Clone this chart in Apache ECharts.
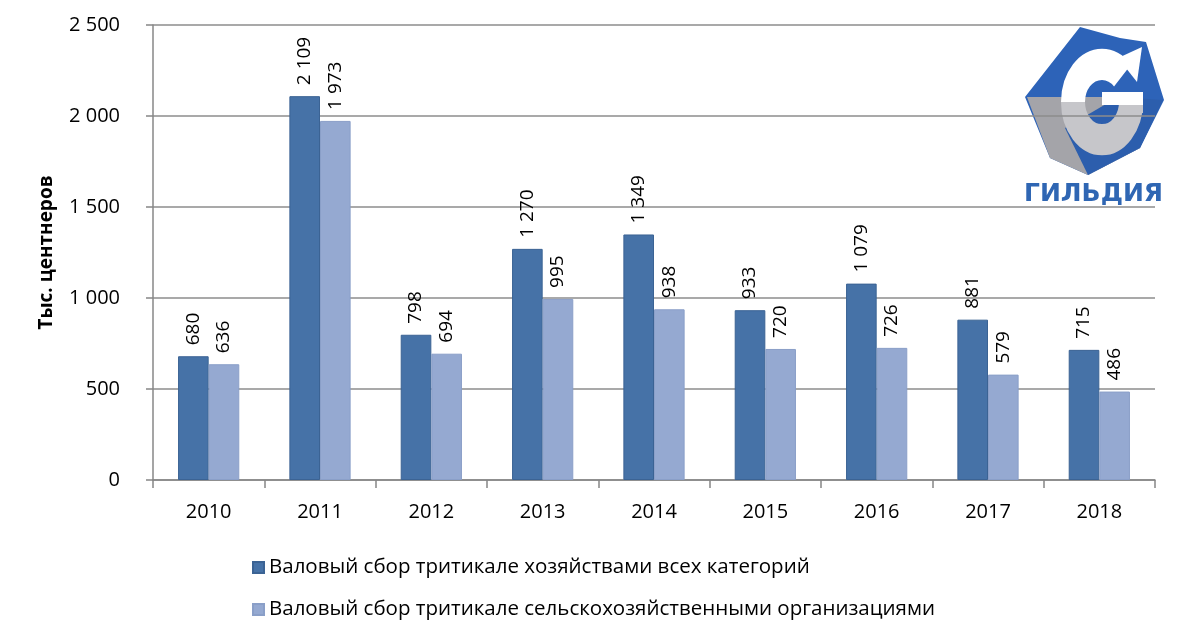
<!DOCTYPE html>
<html><head><meta charset="utf-8">
<script src="https://cdn.jsdelivr.net/npm/echarts@6/dist/echarts.min.js"></script>
<style>html,body{margin:0;padding:0;background:#fff}#c{width:1180px;height:638px}</style>
</head><body><div id="c"></div>
<script>
const categories = ['2010','2011','2012','2013','2014','2015','2016','2017','2018'];
const seriesAllName = 'Валовый сбор тритикале хозяйствами всех категорий';
const seriesOrgName = 'Валовый сбор тритикале сельскохозяйственными организациями';
const allFarms = [680, 2109, 798, 1270, 1349, 933, 1079, 881, 715];
const orgFarms = [636, 1973, 694, 995, 938, 720, 726, 579, 486];
const yTicks = [0, 500, 1000, 1500, 2000, 2500];
const yName = 'Тыс. центнеров';
const logoText = 'ГИЛЬДИЯ';

function fmt(v){ return String(v).replace(/\B(?=(\d{3})+(?!\d))/g, ' '); }
const FONT = 'Open Sans';

const chart = echarts.init(document.getElementById('c'));
const labelCfg = {
  show: true, position: 'top', rotate: 90, align: 'left', verticalAlign: 'middle',
  distance: 11, color: '#000', fontFamily: FONT, fontSize: 19,
  formatter: p => fmt(p.value)
};
chart.setOption({
  animation: false,
  textStyle: { fontFamily: FONT },
  grid: { left: 153, right: 25, top: 25, bottom: 158 },
  legend: {
    orient: 'vertical', left: 247, top: 552, itemWidth: 11, itemHeight: 11, itemGap: 21,
    icon: 'rect',
    textStyle: { fontFamily: FONT, fontSize: 20.5, color: '#000' },
    data: [seriesAllName, seriesOrgName]
  },
  xAxis: {
    type: 'category', data: categories, boundaryGap: true,
    axisLine: { lineStyle: { color: '#878787', width: 1.5 } },
    axisTick: { show: true, length: 8, lineStyle: { color: '#878787', width: 1.5 } },
    axisLabel: { color: '#000', fontSize: 20, fontFamily: FONT, margin: 22 }
  },
  yAxis: {
    type: 'value', min: yTicks[0], max: yTicks[yTicks.length-1], interval: 500,
    name: yName, nameLocation: 'middle', nameGap: 97, nameRotate: 90,
    nameTextStyle: { fontWeight: 'bold', fontSize: 19, color: '#000', fontFamily: FONT },
    axisLine: { show: true, lineStyle: { color: '#878787', width: 1.5 } },
    axisTick: { show: true, length: 7, lineStyle: { color: '#878787', width: 1.5 } },
    splitLine: { lineStyle: { color: '#8c8c8c', width: 1.5 } },
    axisLabel: { color: '#000', fontSize: 20, fontFamily: FONT, margin: 33, formatter: v => fmt(v) }
  },
  series: [
    { name: seriesAllName, type: 'bar', data: allFarms, barGap: '0%', barCategoryGap: '45%',
      itemStyle: { color: '#4672A7', borderColor: '#3B6394', borderWidth: 1 }, label: labelCfg },
    { name: seriesOrgName, type: 'bar', data: orgFarms,
      itemStyle: { color: '#95A9D1', borderColor: '#8A9FC8', borderWidth: 1 }, label: labelCfg }
  ],
  graphic: [
    { type: 'polygon', shape: { points: [[1025,97],[1080,27],[1120,38],[1146,42],[1164,100],[1140,148],[1088,175],[1050,158]] },
      style: { fill: '#2D63B8' } },
    { type: 'polygon', shape: { points: [[1027,97],[1118,97],[1140,148],[1088,175],[1050,158]] },
      style: { fill: '#A4A4A9' } },
    { type: 'polygon', shape: { points: [[1065,128],[1118,97],[1163,100],[1140,148],[1088,175]] },
      style: { fill: '#2C5EAD' } },
    { type: 'group', x: 1102, y: 102, scaleY: 1.3, children: [
      { type: 'arc', shape: { cx: 0, cy: 0, r: 29, startAngle: Math.PI, endAngle: 5.5, clockwise: true },
        style: { stroke: '#ffffff', lineWidth: 24, fill: null } },
      { type: 'arc', shape: { cx: 0, cy: 0, r: 29, startAngle: 0, endAngle: Math.PI, clockwise: true },
        style: { stroke: '#C6C6CA', lineWidth: 24, fill: null } }
    ] },
    { type: 'polygon', shape: { points: [[1118,58],[1142,47],[1137,82]] }, style: { fill: '#ffffff' } },
    { type: 'rect', shape: { x: 1102, y: 92, width: 41, height: 13 }, style: { fill: '#ffffff' } },
    { type: 'rect', shape: { x: 1119, y: 105, width: 24, height: 8 }, style: { fill: '#C6C6CA' } },
    { type: 'text', left: 1024, top: 182, style: { text: logoText, fill: '#2F66B3', font: 'bold 25px "DejaVu Sans"' } }
  ]
});
</script></body></html>
